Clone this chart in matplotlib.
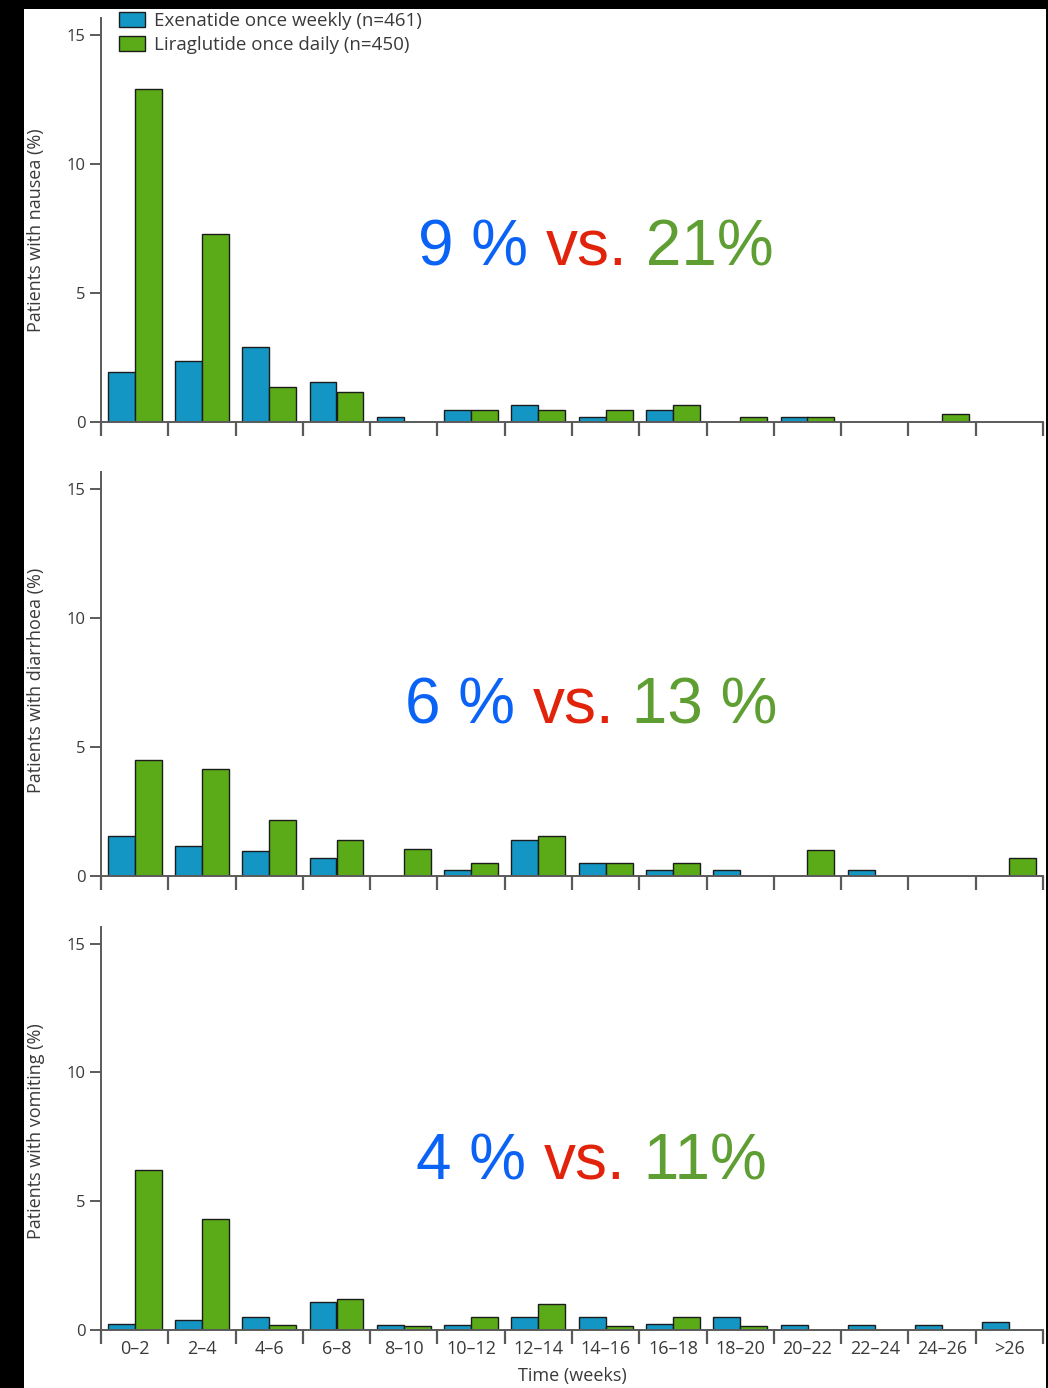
import numpy as np
import matplotlib
matplotlib.use("Agg")
import matplotlib.pyplot as plt
from matplotlib.patches import Rectangle

# Two-week intervals since randomisation
intervals = ["0–2", "2–4", "4–6", "6–8", "8–10", "10–12", "12–14",
             "14–16", "16–18", "18–20", "20–22", "22–24", "24–26", ">26"]

# Percentage of patients with a new event in each interval
nausea_exenatide = [1.95, 2.35, 2.9, 1.55, 0.2, 0.45, 0.65, 0.2, 0.45, 0, 0.2, 0, 0, 0]
nausea_liraglutide = [12.9, 7.3, 1.35, 1.15, 0, 0.45, 0.45, 0.45, 0.65, 0.2, 0.2, 0, 0.3, 0]

diarrhoea_exenatide = [1.55, 1.15, 0.95, 0.7, 0, 0.25, 1.4, 0.5, 0.25, 0.25, 0, 0.25, 0, 0]
diarrhoea_liraglutide = [4.5, 4.15, 2.15, 1.4, 1.05, 0.5, 1.55, 0.5, 0.5, 0, 1.0, 0, 0, 0.7]

vomiting_exenatide = [0.22, 0.4, 0.5, 1.1, 0.2, 0.2, 0.5, 0.5, 0.22, 0.5, 0.2, 0.2, 0.2, 0.3]
vomiting_liraglutide = [6.2, 4.3, 0.2, 1.2, 0.15, 0.5, 1.0, 0.15, 0.5, 0.15, 0, 0, 0, 0]

panel_labels = ["Patients with nausea (%)", "Patients with diarrhoea (%)",
                "Patients with vomiting (%)"]
# Overall incidence: exenatide vs liraglutide
totals = [("9 %", "21%"), ("6 %", "13 %"), ("4 %", "11%")]

series_names = ["Exenatide once weekly (n=461)", "Liraglutide once daily (n=450)"]
yticks = [0, 5, 10, 15]
y_top = 15.65

BLUE = "#1396c4"
GREEN = "#5aab17"
EDGE = "#1c1c1c"
AXIS = "#5a5a5a"
TEXT = "#3a3a3a"

W, H = 1048, 1388
fig = plt.figure(figsize=(W / 100, H / 100), dpi=100, facecolor="black")
fig.patches.append(Rectangle((24 / W, 0), (1046 - 24) / W, 1 - 9 / H,
                             transform=fig.transFigure, facecolor="white",
                             edgecolor="none", zorder=-10))

plt.rcParams["font.family"] = ["Open Sans", "DejaVu Sans"]


def fx(px):
    return px / W


def fy(py):
    return 1 - py / H


# (zero line, top of axis) in pixels for each panel
panel_rows = [(422, 18), (876, 472), (1330, 927)]
label_centres = [0.475, 0.485, 0.494]
x_left, x_right = 101, 1043
data = [(nausea_exenatide, nausea_liraglutide),
        (diarrhoea_exenatide, diarrhoea_liraglutide),
        (vomiting_exenatide, vomiting_liraglutide)]
text_pos = [(418, 266), (405, 723), (416, 1179)]

x = np.arange(len(intervals))
axes = []
for i, ((y0, ytop_px), (exe, lira)) in enumerate(zip(panel_rows, data)):
    ax = fig.add_axes([fx(x_left), fy(y0), fx(x_right) - fx(x_left), (y0 - ytop_px) / H])
    ax.set_facecolor("none")
    exe = np.asarray(exe, float)
    lira = np.asarray(lira, float)
    m1 = exe > 0
    m2 = lira > 0
    b1 = ax.bar(x[m1] + 0.5 - 0.2, exe[m1], width=0.4, color=BLUE,
                edgecolor=EDGE, linewidth=1.0, zorder=3, label=series_names[0])
    b2 = ax.bar(x[m2] + 0.5 + 0.2, lira[m2], width=0.4, color=GREEN,
                edgecolor=EDGE, linewidth=1.0, zorder=3, label=series_names[1])
    ax.set_xlim(0, len(intervals))
    ax.set_ylim(0, y_top)
    for s in ["top", "right"]:
        ax.spines[s].set_visible(False)
    for s in ["left", "bottom"]:
        ax.spines[s].set_color(AXIS)
        ax.spines[s].set_linewidth(1.4)
        ax.spines[s].set_zorder(4)
    ax.set_yticks(yticks)
    ax.tick_params(axis="y", direction="out", length=8, width=1.4, color=AXIS,
                   labelsize=12, labelcolor=TEXT, pad=3)
    ax.set_xticks(np.arange(len(intervals) + 1))
    ax.set_xticks(x + 0.5, minor=True)
    ax.tick_params(axis="x", which="major", direction="out", length=10, width=1.6,
                   color=AXIS, labelbottom=False)
    ax.tick_params(axis="x", which="minor", length=0, labelsize=13,
                   labelcolor=TEXT, pad=7)
    if i == 2:
        ax.set_xticklabels(intervals, minor=True)
        ax.set_xlabel("Time (weeks)", fontsize=13, color=TEXT, labelpad=7)
    else:
        ax.tick_params(axis="x", which="minor", labelbottom=False)
    ax.set_ylabel(panel_labels[i], fontsize=13, color=TEXT)
    ax.yaxis.set_label_coords(-0.059, label_centres[i])
    axes.append((ax, b1, b2))

# legend in the top panel
ax0, b1, b2 = axes[0]
fig.legend(handles=[b1, b2], labels=series_names, loc="upper left",
           bbox_to_anchor=(fx(119), fy(12)), frameon=False, fontsize=13.5,
           handlelength=1.4, handleheight=0.85, handletextpad=0.45,
           labelspacing=0.33, borderpad=0, borderaxespad=0,
           labelcolor=TEXT)

# headline comparison in each panel
fig.canvas.draw()
renderer = fig.canvas.get_renderer()
for (left, base), (a, b) in zip(text_pos, totals):
    pieces = [(a + " ", "#0b63f6"), ("vs.", "#e2230b"), (" " + b, "#5e9e32")]
    xpos = left
    for s, c in pieces:
        t = fig.text(fx(xpos), fy(base), s, color=c, fontsize=46,
                     family=["Liberation Sans", "DejaVu Sans"], va="baseline",
                     ha="left")
        bb = t.get_window_extent(renderer=renderer)
        xpos += bb.width

fig.savefig("out.png", dpi=100, facecolor=fig.get_facecolor())
